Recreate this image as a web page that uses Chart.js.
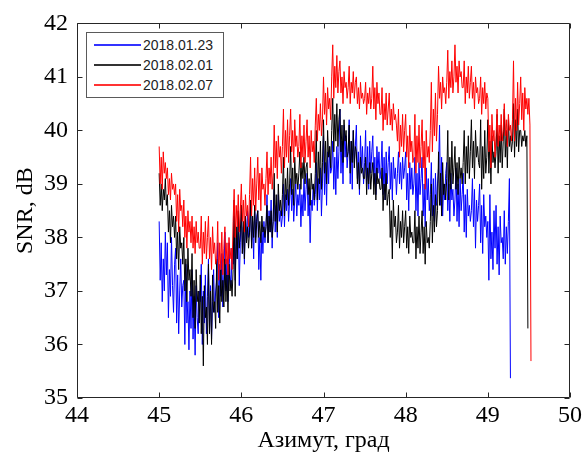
<!DOCTYPE html>
<html>
<head>
<meta charset="utf-8">
<script src="https://cdn.jsdelivr.net/npm/chart.js@4.4.1/dist/chart.umd.min.js"></script>
<style>
  html, body { margin: 0; padding: 0; background: #fff; }
  #wrap { position: relative; width: 585px; height: 455px; overflow: hidden; }
  #c { position: absolute; left: 0; top: 0; }
  #legend { position: absolute; left: 86px; top: 32px; width: 136px; height: 64px;
    border: 1px solid #5a5a5a; background: #fff; font-family: "Liberation Sans", Arial, sans-serif;
    font-size: 14px; color: #222; }
  .row { position: absolute; left: 0; height: 20px; width: 136px; }
  .row .ln { position: absolute; left: 7px; width: 47px; top: 9px; height: 2px; opacity: 0.8; }
  .row .tx { position: absolute; left: 56px; top: 2px; line-height: 16px; }
</style>
</head>
<body>
<div id="wrap">
  <canvas id="c" width="585" height="455"></canvas>
  <div id="legend"></div>
</div>
<script>
// ---- data ----
const azimuthStart = 45;
const azimuthStep = 0.0125;
const seriesLabels = ['2018.01.23', '2018.02.01', '2018.02.07'];
const seriesColors = ['#0000ff', '#000000', '#ff0000'];
const xTickValues = [44, 45, 46, 47, 48, 49, 50];
const yTickValues = [35, 36, 37, 38, 39, 40, 41, 42];

const blueSnr = [
  38.3, 37.2, 37.9, 36.8, 37.6, 37.0, 38.1, 37.3,  37.9, 36.5, 37.4, 36.9, 38.0, 37.1, 36.6, 37.5,
  37.8, 36.4, 37.3, 36.2, 37.0, 37.6, 36.7, 37.1,  37.2, 36.0, 37.5, 36.4, 36.8, 35.9, 37.0, 36.3,
  37.4, 36.1, 36.9, 35.8, 37.1, 36.5, 36.2, 37.0,  36.8, 37.5, 36.0, 37.0, 36.4, 37.3, 36.2, 36.9,
  37.6, 36.3, 37.1, 36.1, 36.8, 37.4, 36.6, 37.0,  37.2, 37.9, 36.5, 37.5, 36.9, 37.7, 36.7, 37.3,
  38.1, 37.0, 37.6, 36.8, 37.9, 37.3, 37.1, 37.8,  37.5, 38.4, 37.2, 38.0, 37.6, 38.3, 37.1, 37.9,
  38.6, 37.7, 38.2, 37.5, 38.4, 37.9, 38.5, 38.0,  38.1, 38.7, 37.8, 38.3, 37.6, 38.6, 38.0, 38.4,
  38.5, 37.4, 38.0, 37.2, 38.2, 37.7, 38.3, 37.9,  38.2, 38.8, 37.9, 38.5, 38.1, 38.7, 37.8, 38.4,
  38.9, 38.1, 38.6, 38.0, 38.8, 38.3, 38.5, 38.2,  38.4, 39.0, 38.2, 38.8, 38.5, 38.9, 38.3, 38.7,
  39.1, 38.5, 38.9, 38.3, 38.7, 39.0, 38.4, 38.8,  38.6, 39.0, 38.2, 38.8, 38.4, 39.1, 38.5, 38.9,
  39.2, 38.4, 38.9, 37.9, 38.7, 38.5, 39.0, 38.6,  38.8, 39.4, 38.5, 39.1, 38.7, 39.3, 38.4, 39.0,
  39.9, 38.8, 39.4, 38.6, 39.6, 39.0, 39.7, 39.2,  39.3, 39.8, 38.9, 39.5, 38.8, 39.7, 39.1, 39.6,
  40.4, 39.2, 39.8, 39.0, 40.1, 39.5, 39.9, 39.3,  39.6, 40.2, 39.0, 39.8, 38.9, 40.0, 39.4, 39.7,
  40.1, 39.1, 39.6, 38.8, 39.9, 39.3, 39.7, 39.0,  39.4, 40.0, 39.0, 39.7, 38.9, 39.8, 39.2, 39.6,
  39.9, 39.0, 39.5, 38.8, 39.7, 39.2, 39.6, 39.1,  39.3, 39.8, 38.8, 39.5, 38.7, 39.6, 39.0, 39.4,
  39.7, 38.9, 39.4, 38.7, 39.5, 39.1, 39.3, 38.8,  39.2, 39.6, 39.0, 39.4, 38.9, 39.5, 39.1, 39.3,
  39.6, 38.7, 39.2, 38.5, 39.4, 38.9, 39.3, 38.8,  39.0, 39.5, 38.5, 39.2, 38.4, 39.4, 38.8, 39.1,
  39.5, 38.4, 39.0, 38.2, 39.3, 38.7, 39.1, 38.5,  38.8, 39.4, 38.4, 39.1, 38.3, 39.2, 38.6, 39.0,
  39.3, 40.1, 38.6, 39.5, 38.4, 39.0, 38.7, 39.2,  39.4, 38.5, 39.0, 38.3, 39.2, 38.7, 38.9, 38.4,
  38.7, 39.3, 38.3, 39.0, 38.2, 39.1, 38.5, 38.8,  39.2, 38.1, 38.8, 38.0, 38.9, 38.4, 38.6, 38.3,
  38.5, 39.1, 38.2, 38.9, 37.8, 38.7, 38.3, 38.6,  39.0, 37.9, 38.6, 37.7, 38.8, 38.2, 38.4, 38.0,
  38.3, 37.2, 38.8, 37.6, 38.1, 37.4, 38.5, 37.8,  38.6, 37.5, 38.2, 37.3, 38.4, 37.9, 38.0, 37.6,
  38.5, 37.5, 38.2, 37.7, 38.3, 39.1, 35.37
];

const blackSnr = [
  39.2, 38.6, 39.0, 38.5, 38.9, 38.7, 39.1, 38.6,  38.8, 38.1, 38.5, 37.9, 38.6, 38.2, 38.4, 38.0,
  38.4, 37.6, 38.1, 37.4, 38.2, 37.8, 37.9, 37.5,  38.0, 37.0, 37.6, 36.8, 37.8, 37.2, 37.4, 36.9,
  37.7, 36.5, 37.2, 36.3, 37.4, 36.8, 37.0, 36.4,  37.3, 36.2, 36.9, 35.6, 37.1, 36.5, 36.7, 36.0,
  37.5, 36.2, 37.0, 36.0, 37.3, 36.6, 36.8, 36.3,  37.6, 36.6, 37.1, 36.4, 37.4, 36.8, 37.2, 36.7,
  37.6, 36.8, 37.3, 36.6, 37.5, 37.0, 37.2, 36.9,  37.4, 38.7, 36.9, 38.2, 37.6, 38.5, 37.8, 38.1,
  38.6, 37.7, 38.3, 37.6, 38.4, 37.9, 38.2, 37.8,  38.1, 38.7, 37.8, 38.4, 38.0, 38.6, 37.9, 38.3,
  38.5, 38.0, 38.3, 37.9, 38.4, 38.1, 38.2, 38.0,  38.2, 38.6, 37.9, 38.4, 38.1, 38.5, 38.0, 38.3,
  39.2, 38.3, 38.8, 38.1, 39.0, 38.5, 38.7, 38.4,  38.8, 39.5, 38.4, 39.1, 38.7, 39.3, 38.6, 39.0,
  39.7, 38.8, 39.3, 38.6, 39.5, 39.0, 39.2, 38.9,  39.2, 39.6, 38.9, 39.4, 39.1, 39.5, 39.0, 39.3,
  39.4, 38.8, 39.1, 38.6, 39.2, 38.9, 39.0, 38.7,  39.2, 40.0, 38.7, 39.6, 39.0, 39.8, 38.9, 39.4,
  40.2, 39.2, 39.8, 39.0, 40.0, 39.5, 39.7, 39.3,  40.0, 40.6, 39.6, 40.3, 39.8, 40.5, 39.7, 40.2,
  40.4, 39.6, 40.1, 39.4, 40.2, 39.8, 40.0, 39.5,  39.6, 40.1, 39.2, 39.8, 39.4, 40.0, 39.3, 39.7,
  39.6, 39.0, 39.4, 38.9, 39.5, 39.2, 39.3, 39.1,  39.1, 39.5, 38.8, 39.3, 39.0, 39.4, 38.9, 39.2,
  39.4, 38.8, 39.2, 38.7, 39.3, 39.0, 39.1, 38.9,  38.9, 39.3, 38.5, 39.0, 38.7, 39.2, 38.6, 38.8,
  38.9, 38.0, 38.5, 37.6, 38.7, 38.2, 38.4, 37.9,  38.1, 38.6, 37.8, 38.3, 38.0, 38.5, 37.9, 38.2,
  38.5, 37.8, 38.2, 37.7, 38.4, 38.0, 38.1, 37.9,  37.9, 38.5, 37.6, 38.2, 37.8, 38.4, 37.7, 38.1,
  38.5, 37.7, 38.2, 37.5, 38.3, 37.9, 38.0, 37.8,  38.3, 39.0, 37.9, 38.6, 38.1, 38.8, 38.2, 38.5,
  39.6, 38.6, 39.2, 38.4, 39.4, 38.8, 39.0, 38.7,  39.1, 40.0, 38.7, 39.5, 38.9, 39.8, 39.0, 39.3,
  39.7, 38.9, 39.4, 38.8, 39.5, 39.1, 39.3, 39.0,  39.4, 40.0, 39.0, 39.7, 39.2, 39.9, 39.1, 39.6,
  40.2, 39.3, 39.8, 39.1, 40.0, 39.5, 39.7, 39.4,  39.3, 40.2, 38.9, 39.7, 39.1, 40.0, 39.2, 39.5,
  40.2, 39.2, 39.8, 39.0, 39.9, 39.4, 39.6, 39.3,  39.6, 40.3, 39.2, 39.9, 39.4, 40.1, 39.3, 39.8,
  40.4, 39.5, 40.0, 39.3, 40.2, 39.7, 39.9, 39.6,  39.8, 40.5, 39.5, 40.2, 39.7, 40.4, 39.6, 40.0,
  40.0, 39.7, 39.9, 39.8, 40.0, 39.7, 39.9, 36.3
];

const redSnr = [
  39.7, 39.0, 39.5, 38.9, 39.6, 39.2, 39.4, 39.1,  39.3, 38.8, 39.1, 38.7, 39.2, 38.9, 39.0, 38.8,
  39.0, 38.3, 38.8, 38.1, 38.9, 38.5, 38.6, 38.2,  38.7, 38.0, 38.4, 37.8, 38.5, 38.1, 38.3, 37.9,
  38.4, 37.8, 38.2, 37.7, 38.3, 37.9, 38.1, 37.8,  37.8, 38.4, 37.5, 38.1, 37.7, 38.3, 37.6, 38.0,
  38.4, 37.6, 38.0, 37.4, 38.2, 37.7, 37.9, 37.5,  37.6, 38.3, 37.2, 37.9, 37.4, 38.1, 37.3, 37.8,
  38.2, 37.5, 37.9, 37.3, 38.0, 37.6, 37.8, 37.4,  38.3, 38.9, 38.0, 38.6, 38.2, 38.8, 38.1, 38.5,
  39.0, 38.3, 38.7, 38.1, 38.8, 38.4, 38.6, 38.2,  38.8, 39.5, 38.4, 39.1, 38.6, 39.3, 38.5, 39.0,
  39.5, 38.7, 39.2, 38.5, 39.3, 38.9, 39.0, 38.6,  39.1, 39.6, 38.8, 39.3, 39.0, 39.5, 38.9, 39.2,
  40.1, 39.3, 39.8, 39.1, 39.9, 39.5, 39.7, 39.2,  39.7, 40.4, 39.3, 40.0, 39.5, 40.2, 39.4, 39.9,
  40.4, 39.6, 40.0, 39.4, 40.2, 39.7, 39.9, 39.5,  39.7, 40.3, 39.3, 39.9, 39.5, 40.1, 39.4, 39.8,
  40.2, 39.5, 39.9, 39.3, 40.0, 39.6, 39.8, 39.4,  40.1, 40.6, 39.8, 40.3, 40.0, 40.5, 39.9, 40.2,
  41.0, 40.3, 40.7, 40.1, 40.8, 40.4, 40.6, 40.2,  41.0, 41.6, 40.6, 41.2, 40.8, 41.4, 40.7, 41.1,
  41.3, 40.7, 41.0, 40.5, 41.1, 40.8, 40.9, 40.6,  40.8, 41.2, 40.5, 40.9, 40.7, 41.1, 40.6, 40.9,
  41.0, 40.5, 40.8, 40.4, 40.9, 40.6, 40.7, 40.5,  40.6, 40.9, 40.3, 40.7, 40.5, 40.8, 40.4, 40.6,
  41.2, 40.4, 40.8, 40.2, 40.9, 40.5, 40.7, 40.3,  40.3, 40.8, 40.0, 40.5, 40.2, 40.7, 40.1, 40.4,
  40.7, 40.1, 40.4, 40.0, 40.5, 40.2, 40.3, 40.1,  39.8, 40.4, 39.5, 40.1, 39.7, 40.3, 39.6, 40.0,
  40.3, 39.5, 39.9, 39.3, 40.1, 39.6, 39.8, 39.4,  39.5, 40.3, 39.2, 39.9, 39.4, 40.1, 39.3, 39.7,
  40.2, 39.3, 39.8, 38.9, 40.0, 39.5, 39.7, 39.4,  40.0, 40.9, 39.6, 40.4, 39.9, 40.7, 39.8, 40.3,
  41.2, 40.6, 40.9, 40.4, 41.0, 40.7, 40.8, 40.5,  40.9, 41.5, 40.6, 41.1, 40.8, 41.3, 40.7, 41.0,
  41.6, 40.9, 41.2, 40.7, 41.3, 41.0, 41.1, 40.8,  40.8, 41.3, 40.5, 41.0, 40.7, 41.2, 40.6, 40.9,
  41.2, 40.6, 40.9, 40.4, 41.0, 40.7, 40.8, 40.5,  40.6, 41.0, 40.3, 40.8, 40.5, 40.9, 40.4, 40.7,
  40.6, 39.6, 40.1, 39.3, 40.3, 39.8, 40.0, 39.5,  39.9, 40.4, 39.7, 40.1, 39.8, 40.3, 39.8, 40.0,
  40.5, 39.9, 40.2, 39.7, 40.3, 40.0, 40.1, 39.8,  40.2, 41.3, 39.8, 40.6, 40.0, 40.9, 40.1, 40.5,
  41.0, 40.2, 40.7, 40.0, 40.8, 40.4, 40.6, 40.3,  40.6, 40.1, 35.69
];

// ---- build chart ----
function toPoints(values) {
  return values.map((v, i) => ({ x: +(azimuthStart + i * azimuthStep).toFixed(4), y: v }));
}
const seriesValues = [blueSnr, blackSnr, redSnr];
const drawOrder = [2, 1, 0]; // red on top, like the reference

const datasets = seriesValues.map((vals, k) => ({
  label: seriesLabels[k],
  data: toPoints(vals),
  borderColor: seriesColors[k],
  borderWidth: 1,
  pointRadius: 0,
  tension: 0,
  fill: false,
  order: drawOrder[k]
}));

const axisColor = '#262626';
const boxPlugin = {
  id: 'boxAndTicks',
  afterDraw(chart) {
    const { ctx, chartArea: a, scales } = chart;
    const L = Math.round(a.left) + 0.5, R = Math.round(a.right) - 0.5;
    const T = Math.round(a.top) + 0.5, B = Math.round(a.bottom) - 0.5;
    ctx.save();
    ctx.strokeStyle = axisColor;
    ctx.lineWidth = 1;
    ctx.beginPath();
    ctx.rect(L, T, R - L, B - T);
    const tl = 5;
    xTickValues.forEach(v => {
      const px = Math.round(scales.x.getPixelForValue(v)) + 0.5;
      ctx.moveTo(px, B); ctx.lineTo(px, B - tl);
      ctx.moveTo(px, T); ctx.lineTo(px, T + tl);
    });
    yTickValues.forEach(v => {
      const py = Math.round(scales.y.getPixelForValue(v)) + 0.5;
      ctx.moveTo(L, py); ctx.lineTo(L + tl, py);
      ctx.moveTo(R, py); ctx.lineTo(R - tl, py);
    });
    ctx.stroke();
    ctx.restore();
  }
};

const serif = '"Liberation Serif", "Times New Roman", serif';
new Chart(document.getElementById('c'), {
  type: 'line',
  data: { datasets },
  plugins: [boxPlugin],
  options: {
    responsive: false,
    animation: false,
    devicePixelRatio: 1,
    layout: { padding: { top: 22, right: 14, left: 0, bottom: 0 } },
    plugins: { legend: { display: false }, tooltip: { enabled: false } },
    scales: {
      x: {
        type: 'linear',
        min: 44, max: 50,
        afterBuildTicks: s => { s.ticks = xTickValues.map(v => ({ value: v })); },
        afterFit: s => { s.height = 57; },
        grid: { display: false, drawTicks: false },
        border: { display: false },
        ticks: { padding: 3, color: '#000', font: { family: serif, size: 24 }, maxRotation: 0, autoSkip: false },
        title: { display: true, text: 'Азимут, град', color: '#000', font: { family: serif, size: 24 }, padding: { top: 0, bottom: 0 } }
      },
      y: {
        type: 'linear',
        min: 35, max: 42,
        afterBuildTicks: s => { s.ticks = yTickValues.map(v => ({ value: v })); },
        afterFit: s => { s.width = 77; },
        grid: { display: false, drawTicks: false },
        border: { display: false },
        ticks: { padding: 9, color: '#000', font: { family: serif, size: 24 }, autoSkip: false },
        title: { display: true, text: 'SNR, dB', color: '#000', font: { family: serif, size: 24 }, padding: { top: 11, bottom: 0 } }
      }
    }
  }
});

// ---- legend (inside the plot, like the reference) ----
const legend = document.getElementById('legend');
seriesLabels.forEach((lab, k) => {
  const row = document.createElement('div');
  row.className = 'row';
  row.style.top = (2 + k * 20) + 'px';
  const ln = document.createElement('div');
  ln.className = 'ln';
  ln.style.backgroundColor = seriesColors[k];
  const tx = document.createElement('div');
  tx.className = 'tx';
  tx.textContent = lab;
  row.appendChild(ln); row.appendChild(tx);
  legend.appendChild(row);
});
</script>
</body>
</html>
